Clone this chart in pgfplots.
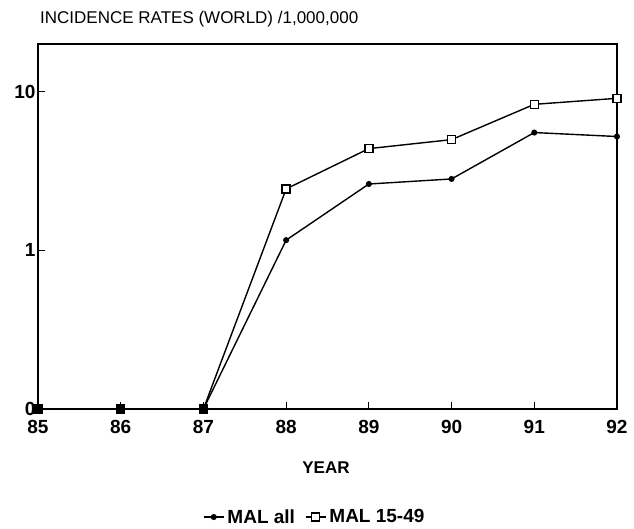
\documentclass[border=0pt]{standalone}
\usepackage{fontspec}
\setmainfont{Liberation Sans}
\usepackage{pgfplots}
\pgfplotsset{compat=1.18}

\begin{document}
\begin{tikzpicture}[x=1pt,y=1pt]
% page frame, in reference pixels (axis corner at origin)
\path (-38,-120) rectangle (596,409);
\begin{axis}[
    at={(0,0)}, anchor=south west,
    scale only axis, width=579pt, height=365pt,
    % WINDOW
    xmin=85, xmax=92,
    ymode=log, ymin=0.1, ymax=20,
    xtick={85,...,92},
    ytick={0.1,1,10}, yticklabels={0,1,10},
    yminorticks=false,
    xtick pos=bottom, ytick pos=left,
    tick align=inside, major tick length=7pt,
    tick style={black, line width=1pt},
    axis line style={line width=1.3pt},
    /pgf/number format/assume math mode=true,
    ticklabel style={font=\fontsize{19}{19}\selectfont\bfseries},
    xticklabel style={yshift=-8pt},
    yticklabel style={xshift=1pt},
    clip=false,
    % LEGEND
    legend columns=2,
    legend style={draw=none, fill=none, at={(0.478,-0.296)}, anchor=center,
        font=\fontsize{19}{19}\selectfont\bfseries,
        /tikz/every odd column/.append style={column sep=1pt},
        /tikz/every even column/.append style={column sep=8pt}},
    legend image code/.code={
        \draw[mark repeat=2,mark phase=2,#1]
        plot coordinates {(0pt,0pt) (10pt,0pt) (20pt,0pt)};},
]
    \addplot[black, line width=1.4pt, mark=*, mark size=2.3pt] coordinates {
        (85,0.1) (86,0.1) (87,0.1)
        (88,1.16) (89,2.62) (90,2.82) (91,5.53) (92,5.22)
    };
    \addlegendentry{MAL all}

    \addplot[black, line width=1.4pt, mark=square*, mark size=4pt,
        mark options={fill=white, line width=1.4pt}] coordinates {
        (85,0.1) (86,0.1) (87,0.1)
        (88,2.44) (89,4.38) (90,4.99) (91,8.33) (92,9.09)
    };
    \addlegendentry{MAL 15-49}

    % zero values are drawn as solid blocks
    \addplot[forget plot, only marks, mark=square*, mark size=3.5pt, black] coordinates {
        (85,0.1) (86,0.1) (87,0.1)
    };
\end{axis}
\node[anchor=west, inner sep=0pt] at (2,389.5)
    {\fontsize{17}{17}\selectfont INCIDENCE RATES (WORLD) /1,000,000};
\node[inner sep=0pt] at (288,-59)
    {\fontsize{17}{17}\selectfont\bfseries YEAR};
\end{tikzpicture}
\end{document}
